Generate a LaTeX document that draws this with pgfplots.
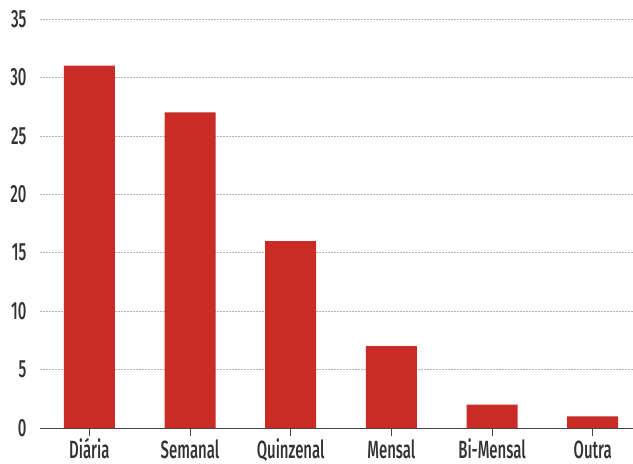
\documentclass[border=0pt]{standalone}
\usepackage{fontspec}
\setmainfont{Fira Sans Medium}[FakeStretch=0.6]
\usepackage{pgfplots}
\pgfplotsset{compat=1.18}
\definecolor{barred}{HTML}{C92B27}
\definecolor{txt}{HTML}{333333}
\definecolor{axisgray}{HTML}{444444}
\definecolor{gridgray}{HTML}{B4B4B4}
\begin{document}
\begin{tikzpicture}
\begin{axis}[
  at={(40bp,36bp)}, anchor=south west,
  scale only axis,
  width=593bp, height=409bp,
  xmin=-0.49, xmax=5.4,
  ymin=0, ymax=35,
  ytick={0,5,...,35},
  xtick=data,
  xticklabels={Diária,Semanal,Quinzenal,Mensal,Bi-Mensal,Outra},
  axis lines*=left,
  x axis line style={draw=axisgray, line width=1pt, -},
  y axis line style={draw=none},
  ytick style={draw=none},
  xtick style={draw=axisgray, line width=1pt},
  tick align=outside,
  major tick length=8bp,
  ymajorgrids,
  grid style={gridgray, dash pattern=on 2bp off 1bp, line width=0.6pt},
  tick label style={font=\fontsize{25}{26}\selectfont, text=txt},
  /pgf/number format/assume math mode=true,
  yticklabel style={xshift=-2bp},
  xticklabel style={anchor=north, text height=16bp, text depth=3bp, inner sep=1bp, yshift=-5bp},
  clip=false,
]
\addplot[ybar, bar width=51bp, fill=barred, draw=none] coordinates {
  (0,31) (1,27) (2,16) (3,7) (4,2) (5,1)
};
\end{axis}
\pgfresetboundingbox
\path (0,0) rectangle (633bp,464bp);
\end{tikzpicture}
\end{document}
